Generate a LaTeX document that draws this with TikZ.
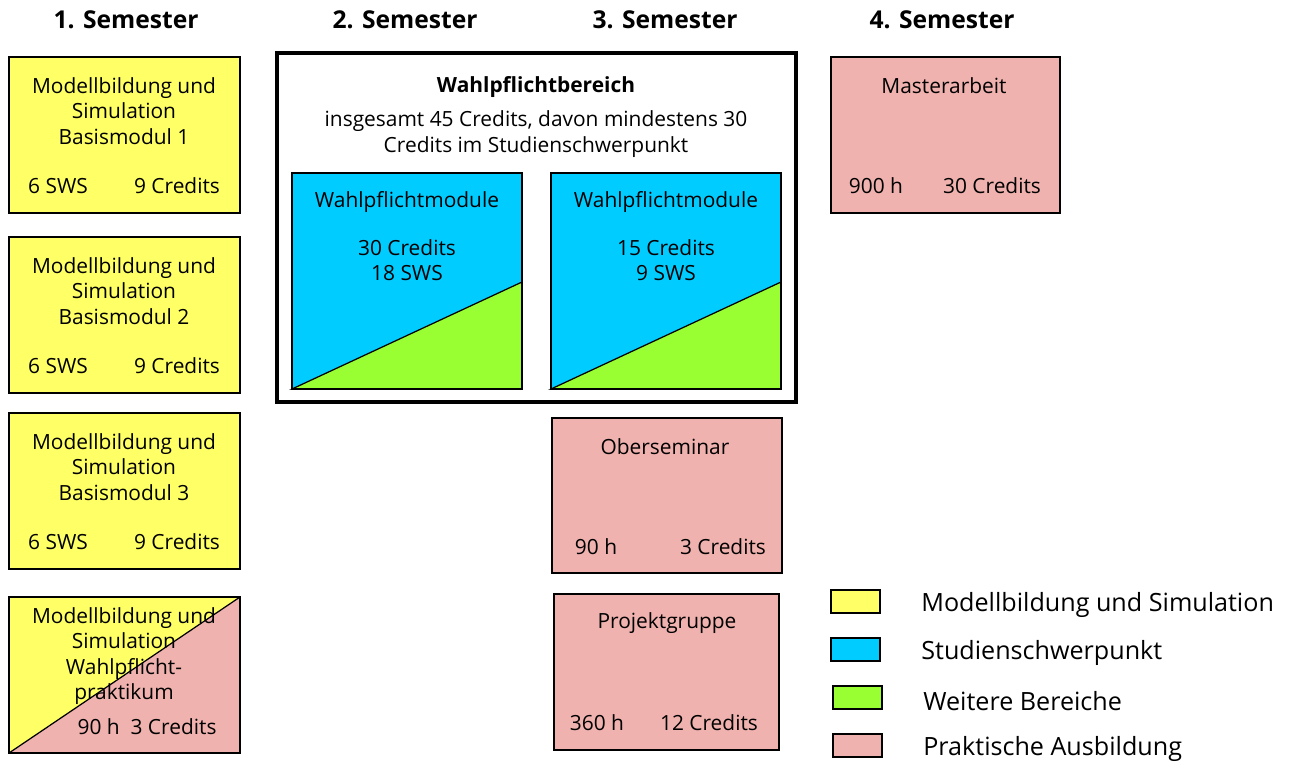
\documentclass[tikz,border=0pt]{standalone}
\usepackage{fontspec}
\setmainfont{Open Sans}
\definecolor{msyellow}{RGB}{255,255,102}
\definecolor{msblue}{RGB}{0,204,255}
\definecolor{msgreen}{RGB}{153,255,51}
\definecolor{mspink}{RGB}{240,178,174}
\tikzset{
    boxtext/.style = {font=\fontsize{11.9}{14.4}\selectfont, align=center, inner sep=0pt},
    semhead/.style = {font=\fontsize{14}{18}\selectfont\bfseries, inner sep=0pt},
    legtext/.style = {font=\fontsize{14.3}{17}\selectfont, anchor=west, inner sep=0pt},
    modbox/.style = {draw=black, line width=0.7pt}
}
\begin{document}
\begin{tikzpicture}[x=0.02cm, y=-0.02cm]
    \useasboundingbox (0, 0) rectangle (1289, 765);

    % Semester headings
    \node[semhead] (sem1) at (126, 20) {1. Semester};
    \node[semhead] (sem2) at (405, 20) {2. Semester};
    \node[semhead] (sem3) at (665, 20) {3. Semester};
    \node[semhead] (sem4) at (942, 20) {4. Semester};

    % 1. Semester: Basismodule
    \foreach \i/\y in {1/57, 2/237, 3/413} {
        \draw[modbox, fill = msyellow] (9, \y) rectangle (240, \y+156);
        \node[boxtext] (mbs\i) at (124, \y+54) {Modellbildung und\\Simulation\\Basismodul \i};
        \node[boxtext] (mbs\i sws) at (58, \y+129) {6 SWS};
        \node[boxtext] (mbs\i cr) at (177, \y+129) {9 Credits};
    }

    % Wahlpflichtpraktikum
    \fill[msyellow] (9, 597) -- (240, 597) -- (9, 753) -- cycle;
    \fill[mspink] (240, 597) -- (240, 753) -- (9, 753) -- cycle;
    \draw[modbox] (9, 753) -- (240, 597);
    \draw[modbox] (9, 597) rectangle (240, 753);
    \node[boxtext] (mbs4) at (124, 656) {Modellbildung und\\Simulation\\Wahlpflicht-\\praktikum};
    \node[boxtext] (mbs4cr) at (147, 727) {90 h\ \ 3 Credits};

    % Wahlpflichtbereich
    \draw[line width=1.8pt] (277, 53) rectangle (796, 402);
    \node[boxtext, font=\fontsize{11.9}{14.4}\selectfont\bfseries] (wpb) at (536, 87) {Wahlpflichtbereich};
    \node[boxtext] (wpbtext) at (536, 134) {insgesamt 45 Credits, davon mindestens 30\\Credits im Studienschwerpunkt};

    \foreach \n/\x/\crd/\sw in {a/292/30/18, b/551/15/9} {
        \fill[msblue] (\x, 173) rectangle (\x+230, 389);
        \draw[modbox, fill = msgreen] (\x, 389) -- (\x+230, 282) -- (\x+230, 389) -- cycle;
        \draw[modbox] (\x, 173) rectangle (\x+230, 389);
        \node[boxtext] (wpm\n) at (\x+115, 202) {Wahlpflichtmodule};
        \node[boxtext] (wpm\n cr) at (\x+115, 260) {\crd\ Credits\\\sw\ SWS};
    }

    % Praktische Ausbildung
    \draw[modbox, fill = mspink] (831, 57) rectangle (1060, 213);
    \node[boxtext] (ma) at (944, 86) {Masterarbeit};
    \node[boxtext] (mah) at (876, 186) {900 h};
    \node[boxtext] (macr) at (992, 186) {30 Credits};

    \draw[modbox, fill = mspink] (552, 418) rectangle (782, 573);
    \node[boxtext] (os) at (665, 447) {Oberseminar};
    \node[boxtext] (osh) at (596, 547) {90 h};
    \node[boxtext] (oscr) at (723, 547) {3 Credits};

    \draw[modbox, fill = mspink] (554, 594) rectangle (779, 750);
    \node[boxtext] (pg) at (667, 623) {Projektgruppe};
    \node[boxtext] (pgh) at (597, 723) {360 h};
    \node[boxtext] (pgcr) at (709, 723) {12 Credits};

    % Legende
    \foreach \n/\x/\y/\col/\txt in {leg1/831/590/msyellow/Modellbildung und Simulation,
                                   leg2/831/638/msblue/Studienschwerpunkt,
                                   leg3/833/686/msgreen/Weitere Bereiche,
                                   leg4/833/734/mspink/Praktische Ausbildung} {
        \draw[modbox, fill = \col] (\x, \y) rectangle (\x+49, \y+23);
        \node[legtext] (\n) at (\x+90, \y+15) {\txt};
    }
\end{tikzpicture}
\end{document}
